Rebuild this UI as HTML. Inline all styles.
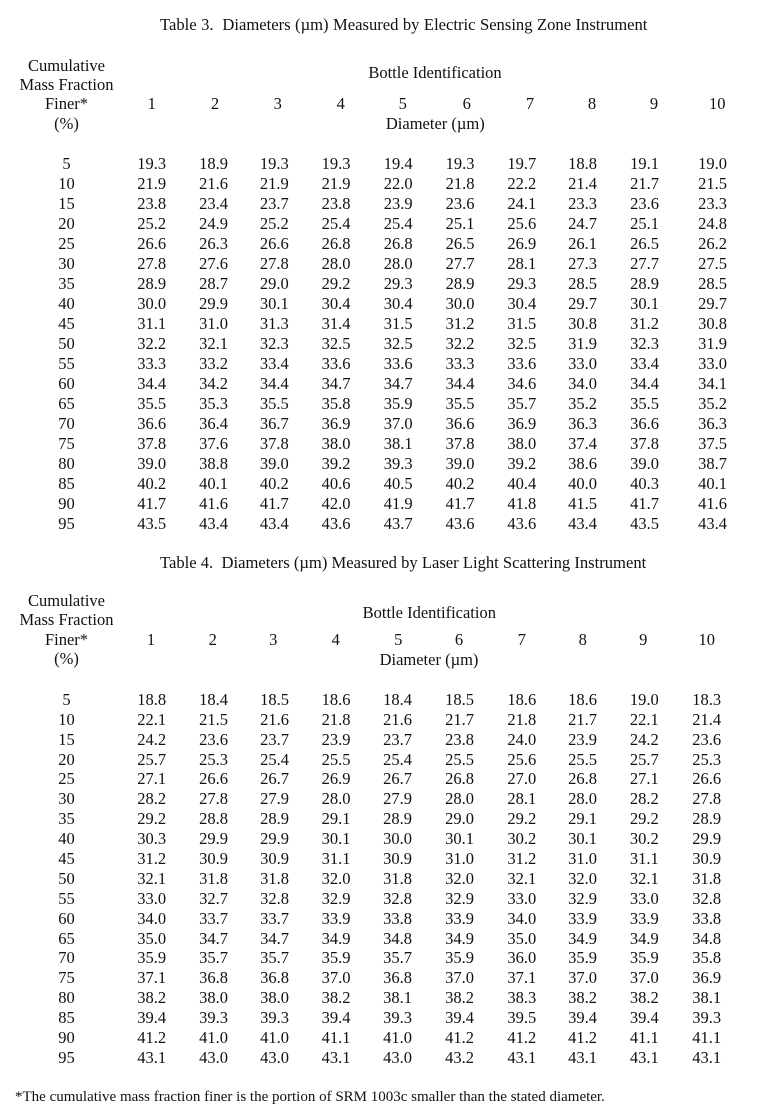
<!DOCTYPE html>
<html>
<head>
<meta charset="utf-8">
<style>
html,body{margin:0;padding:0;background:#fff;}
body{width:761px;height:1113px;position:relative;overflow:hidden;font-family:"Liberation Serif","Times New Roman",serif;font-size:16.5px;color:#111;}
.l{position:absolute;height:20px;line-height:20px;white-space:pre;}
.c{position:absolute;width:160px;text-align:center;white-space:pre;height:20px;line-height:20px;}
.r{position:absolute;left:0;width:761px;height:20px;line-height:20px;}
.r span{position:absolute;top:0;width:60px;text-align:center;}
.t3 span:nth-child(1){left:36.5px}
.t3 span:nth-child(2){left:121.7px}
.t3 span:nth-child(3){left:183.5px}
.t3 span:nth-child(4){left:244.3px}
.t3 span:nth-child(5){left:306px}
.t3 span:nth-child(6){left:368.2px}
.t3 span:nth-child(7){left:430px}
.t3 span:nth-child(8){left:491.8px}
.t3 span:nth-child(9){left:552.6px}
.t3 span:nth-child(10){left:614.5px}
.t3 span:nth-child(11){left:682.5px}
.t4 span:nth-child(1){left:36.5px}
.t4 span:nth-child(2){left:121.7px}
.t4 span:nth-child(3){left:183.5px}
.t4 span:nth-child(4){left:244.5px}
.t4 span:nth-child(5){left:306px}
.t4 span:nth-child(6){left:367.5px}
.t4 span:nth-child(7){left:429.5px}
.t4 span:nth-child(8){left:491.8px}
.t4 span:nth-child(9){left:552.5px}
.t4 span:nth-child(10){left:614.3px}
.t4 span:nth-child(11){left:676.7px}
.h3 span:nth-child(1){left:121.7px}
.h3 span:nth-child(2){left:185px}
.h3 span:nth-child(3){left:247.7px}
.h3 span:nth-child(4){left:310.7px}
.h3 span:nth-child(5){left:372.7px}
.h3 span:nth-child(6){left:436.7px}
.h3 span:nth-child(7){left:500px}
.h3 span:nth-child(8){left:562px}
.h3 span:nth-child(9){left:624px}
.h3 span:nth-child(10){left:687.3px}
.h4 span:nth-child(1){left:121px}
.h4 span:nth-child(2){left:182.7px}
.h4 span:nth-child(3){left:243.3px}
.h4 span:nth-child(4){left:305.7px}
.h4 span:nth-child(5){left:368.3px}
.h4 span:nth-child(6){left:429px}
.h4 span:nth-child(7){left:491.7px}
.h4 span:nth-child(8){left:552.7px}
.h4 span:nth-child(9){left:613.3px}
.h4 span:nth-child(10){left:676.7px}
.title{font-size:16.6px;}
.foot{font-size:15px;}
</style>
</head>
<body>

<!-- Table 3 -->
<div class="l title" style="left:160px;top:15.1px;word-spacing:0.3px;">Table 3.  Diameters (&micro;m) Measured by Electric Sensing Zone Instrument</div>

<div class="c" style="left:-13.5px;top:56.1px;">Cumulative</div>
<div class="c" style="left:-13.5px;top:75.1px;">Mass Fraction</div>
<div class="c" style="left:-13.5px;top:94.4px;">Finer*</div>
<div class="c" style="left:-13.5px;top:113.9px;">(%)</div>

<div class="c" style="left:355px;top:63.4px;">Bottle Identification</div>
<div class="r h3" style="top:94.4px;"><span>1</span><span>2</span><span>3</span><span>4</span><span>5</span><span>6</span><span>7</span><span>8</span><span>9</span><span>10</span></div>
<div class="c" style="left:355.3px;top:113.7px;">Diameter (&micro;m)</div>

<div class="r t3" style="top:153.7px;"><span>5</span><span>19.3</span><span>18.9</span><span>19.3</span><span>19.3</span><span>19.4</span><span>19.3</span><span>19.7</span><span>18.8</span><span>19.1</span><span>19.0</span></div>
<div class="r t3" style="top:173.7px;"><span>10</span><span>21.9</span><span>21.6</span><span>21.9</span><span>21.9</span><span>22.0</span><span>21.8</span><span>22.2</span><span>21.4</span><span>21.7</span><span>21.5</span></div>
<div class="r t3" style="top:193.7px;"><span>15</span><span>23.8</span><span>23.4</span><span>23.7</span><span>23.8</span><span>23.9</span><span>23.6</span><span>24.1</span><span>23.3</span><span>23.6</span><span>23.3</span></div>
<div class="r t3" style="top:213.7px;"><span>20</span><span>25.2</span><span>24.9</span><span>25.2</span><span>25.4</span><span>25.4</span><span>25.1</span><span>25.6</span><span>24.7</span><span>25.1</span><span>24.8</span></div>
<div class="r t3" style="top:233.7px;"><span>25</span><span>26.6</span><span>26.3</span><span>26.6</span><span>26.8</span><span>26.8</span><span>26.5</span><span>26.9</span><span>26.1</span><span>26.5</span><span>26.2</span></div>
<div class="r t3" style="top:253.7px;"><span>30</span><span>27.8</span><span>27.6</span><span>27.8</span><span>28.0</span><span>28.0</span><span>27.7</span><span>28.1</span><span>27.3</span><span>27.7</span><span>27.5</span></div>
<div class="r t3" style="top:273.7px;"><span>35</span><span>28.9</span><span>28.7</span><span>29.0</span><span>29.2</span><span>29.3</span><span>28.9</span><span>29.3</span><span>28.5</span><span>28.9</span><span>28.5</span></div>
<div class="r t3" style="top:293.7px;"><span>40</span><span>30.0</span><span>29.9</span><span>30.1</span><span>30.4</span><span>30.4</span><span>30.0</span><span>30.4</span><span>29.7</span><span>30.1</span><span>29.7</span></div>
<div class="r t3" style="top:313.7px;"><span>45</span><span>31.1</span><span>31.0</span><span>31.3</span><span>31.4</span><span>31.5</span><span>31.2</span><span>31.5</span><span>30.8</span><span>31.2</span><span>30.8</span></div>
<div class="r t3" style="top:333.7px;"><span>50</span><span>32.2</span><span>32.1</span><span>32.3</span><span>32.5</span><span>32.5</span><span>32.2</span><span>32.5</span><span>31.9</span><span>32.3</span><span>31.9</span></div>
<div class="r t3" style="top:353.7px;"><span>55</span><span>33.3</span><span>33.2</span><span>33.4</span><span>33.6</span><span>33.6</span><span>33.3</span><span>33.6</span><span>33.0</span><span>33.4</span><span>33.0</span></div>
<div class="r t3" style="top:373.7px;"><span>60</span><span>34.4</span><span>34.2</span><span>34.4</span><span>34.7</span><span>34.7</span><span>34.4</span><span>34.6</span><span>34.0</span><span>34.4</span><span>34.1</span></div>
<div class="r t3" style="top:393.7px;"><span>65</span><span>35.5</span><span>35.3</span><span>35.5</span><span>35.8</span><span>35.9</span><span>35.5</span><span>35.7</span><span>35.2</span><span>35.5</span><span>35.2</span></div>
<div class="r t3" style="top:413.7px;"><span>70</span><span>36.6</span><span>36.4</span><span>36.7</span><span>36.9</span><span>37.0</span><span>36.6</span><span>36.9</span><span>36.3</span><span>36.6</span><span>36.3</span></div>
<div class="r t3" style="top:433.7px;"><span>75</span><span>37.8</span><span>37.6</span><span>37.8</span><span>38.0</span><span>38.1</span><span>37.8</span><span>38.0</span><span>37.4</span><span>37.8</span><span>37.5</span></div>
<div class="r t3" style="top:453.7px;"><span>80</span><span>39.0</span><span>38.8</span><span>39.0</span><span>39.2</span><span>39.3</span><span>39.0</span><span>39.2</span><span>38.6</span><span>39.0</span><span>38.7</span></div>
<div class="r t3" style="top:473.7px;"><span>85</span><span>40.2</span><span>40.1</span><span>40.2</span><span>40.6</span><span>40.5</span><span>40.2</span><span>40.4</span><span>40.0</span><span>40.3</span><span>40.1</span></div>
<div class="r t3" style="top:493.7px;"><span>90</span><span>41.7</span><span>41.6</span><span>41.7</span><span>42.0</span><span>41.9</span><span>41.7</span><span>41.8</span><span>41.5</span><span>41.7</span><span>41.6</span></div>
<div class="r t3" style="top:513.7px;"><span>95</span><span>43.5</span><span>43.4</span><span>43.4</span><span>43.6</span><span>43.7</span><span>43.6</span><span>43.6</span><span>43.4</span><span>43.5</span><span>43.4</span></div>

<!-- Table 4 -->
<div class="l title" style="left:160px;top:552.7px;">Table 4.  Diameters (&micro;m) Measured by Laser Light Scattering Instrument</div>

<div class="c" style="left:-13.5px;top:591.1px;">Cumulative</div>
<div class="c" style="left:-13.5px;top:610.4px;">Mass Fraction</div>
<div class="c" style="left:-13.5px;top:630.1px;">Finer*</div>
<div class="c" style="left:-13.5px;top:649.4px;">(%)</div>

<div class="c" style="left:349.3px;top:602.7px;">Bottle Identification</div>
<div class="r h4" style="top:630.1px;"><span>1</span><span>2</span><span>3</span><span>4</span><span>5</span><span>6</span><span>7</span><span>8</span><span>9</span><span>10</span></div>
<div class="c" style="left:349px;top:650.4px;">Diameter (&micro;m)</div>

<div class="r t4" style="top:689.9px;"><span>5</span><span>18.8</span><span>18.4</span><span>18.5</span><span>18.6</span><span>18.4</span><span>18.5</span><span>18.6</span><span>18.6</span><span>19.0</span><span>18.3</span></div>
<div class="r t4" style="top:709.8px;"><span>10</span><span>22.1</span><span>21.5</span><span>21.6</span><span>21.8</span><span>21.6</span><span>21.7</span><span>21.8</span><span>21.7</span><span>22.1</span><span>21.4</span></div>
<div class="r t4" style="top:729.7px;"><span>15</span><span>24.2</span><span>23.6</span><span>23.7</span><span>23.9</span><span>23.7</span><span>23.8</span><span>24.0</span><span>23.9</span><span>24.2</span><span>23.6</span></div>
<div class="r t4" style="top:749.5px;"><span>20</span><span>25.7</span><span>25.3</span><span>25.4</span><span>25.5</span><span>25.4</span><span>25.5</span><span>25.6</span><span>25.5</span><span>25.7</span><span>25.3</span></div>
<div class="r t4" style="top:769.4px;"><span>25</span><span>27.1</span><span>26.6</span><span>26.7</span><span>26.9</span><span>26.7</span><span>26.8</span><span>27.0</span><span>26.8</span><span>27.1</span><span>26.6</span></div>
<div class="r t4" style="top:789.3px;"><span>30</span><span>28.2</span><span>27.8</span><span>27.9</span><span>28.0</span><span>27.9</span><span>28.0</span><span>28.1</span><span>28.0</span><span>28.2</span><span>27.8</span></div>
<div class="r t4" style="top:809.2px;"><span>35</span><span>29.2</span><span>28.8</span><span>28.9</span><span>29.1</span><span>28.9</span><span>29.0</span><span>29.2</span><span>29.1</span><span>29.2</span><span>28.9</span></div>
<div class="r t4" style="top:829.1px;"><span>40</span><span>30.3</span><span>29.9</span><span>29.9</span><span>30.1</span><span>30.0</span><span>30.1</span><span>30.2</span><span>30.1</span><span>30.2</span><span>29.9</span></div>
<div class="r t4" style="top:848.9px;"><span>45</span><span>31.2</span><span>30.9</span><span>30.9</span><span>31.1</span><span>30.9</span><span>31.0</span><span>31.2</span><span>31.0</span><span>31.1</span><span>30.9</span></div>
<div class="r t4" style="top:868.8px;"><span>50</span><span>32.1</span><span>31.8</span><span>31.8</span><span>32.0</span><span>31.8</span><span>32.0</span><span>32.1</span><span>32.0</span><span>32.1</span><span>31.8</span></div>
<div class="r t4" style="top:888.7px;"><span>55</span><span>33.0</span><span>32.7</span><span>32.8</span><span>32.9</span><span>32.8</span><span>32.9</span><span>33.0</span><span>32.9</span><span>33.0</span><span>32.8</span></div>
<div class="r t4" style="top:908.6px;"><span>60</span><span>34.0</span><span>33.7</span><span>33.7</span><span>33.9</span><span>33.8</span><span>33.9</span><span>34.0</span><span>33.9</span><span>33.9</span><span>33.8</span></div>
<div class="r t4" style="top:928.5px;"><span>65</span><span>35.0</span><span>34.7</span><span>34.7</span><span>34.9</span><span>34.8</span><span>34.9</span><span>35.0</span><span>34.9</span><span>34.9</span><span>34.8</span></div>
<div class="r t4" style="top:948.3px;"><span>70</span><span>35.9</span><span>35.7</span><span>35.7</span><span>35.9</span><span>35.7</span><span>35.9</span><span>36.0</span><span>35.9</span><span>35.9</span><span>35.8</span></div>
<div class="r t4" style="top:968.2px;"><span>75</span><span>37.1</span><span>36.8</span><span>36.8</span><span>37.0</span><span>36.8</span><span>37.0</span><span>37.1</span><span>37.0</span><span>37.0</span><span>36.9</span></div>
<div class="r t4" style="top:988.1px;"><span>80</span><span>38.2</span><span>38.0</span><span>38.0</span><span>38.2</span><span>38.1</span><span>38.2</span><span>38.3</span><span>38.2</span><span>38.2</span><span>38.1</span></div>
<div class="r t4" style="top:1008px;"><span>85</span><span>39.4</span><span>39.3</span><span>39.3</span><span>39.4</span><span>39.3</span><span>39.4</span><span>39.5</span><span>39.4</span><span>39.4</span><span>39.3</span></div>
<div class="r t4" style="top:1027.9px;"><span>90</span><span>41.2</span><span>41.0</span><span>41.0</span><span>41.1</span><span>41.0</span><span>41.2</span><span>41.2</span><span>41.2</span><span>41.1</span><span>41.1</span></div>
<div class="r t4" style="top:1047.7px;"><span>95</span><span>43.1</span><span>43.0</span><span>43.0</span><span>43.1</span><span>43.0</span><span>43.2</span><span>43.1</span><span>43.1</span><span>43.1</span><span>43.1</span></div>

<div class="l foot" style="left:15px;top:1086.6px;">*The cumulative mass fraction finer is the portion of SRM 1003c smaller than the stated diameter.</div>

</body>
</html>
